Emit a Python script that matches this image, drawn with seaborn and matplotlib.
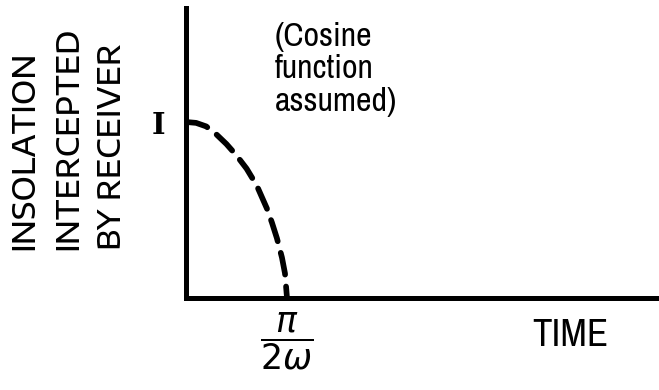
import matplotlib
matplotlib.use("Agg")
import matplotlib.pyplot as plt
import seaborn as sns
import pandas as pd

# Normalised time (1 = pi / 2w) and intercepted insolation (1 = I)
time_frac = [0.0, 0.1, 0.2, 0.3, 0.4, 0.5, 0.6, 0.7, 0.8, 0.85, 0.9, 0.95, 0.98, 1.0]
insolation = [1.0, 0.995, 0.975, 0.93, 0.875, 0.81, 0.735, 0.64, 0.51, 0.43, 0.34, 0.23, 0.14, 0.0]

y_tick_labels = ["I"]
x_tick_labels = [r"$\dfrac{\pi}{2\omega}$"]
y_label = "INSOLATION\nINTERCEPTED\nBY RECEIVER"
x_label = "TIME"
note = "(Cosine\nfunction\nassumed)"

sns.set_theme(style="white")
plt.rcParams["font.family"] = ["DejaVu Sans"]
plt.rcParams["mathtext.fontset"] = "dejavusans"

narrow = ["Archivo Narrow", "Liberation Sans Narrow", "Liberation Sans", "DejaVu Sans"]
wide = ["Encode Sans Expanded", "DejaVu Sans"]

df = pd.DataFrame({"t": time_frac, "q": insolation})

fig = plt.figure(figsize=(6.59, 3.9), dpi=100)
ax = fig.add_axes([186 / 659, (390 - 298) / 390, 1 - 186 / 659, 290 / 390])

sns.lineplot(data=df, x="t", y="q", ax=ax, color="black", linewidth=4.1,
             linestyle=(0, (3.9, 2.1)), dash_capstyle="round")

ax.set_xlim(0, 473 / 101)
ax.set_ylim(0, 290 / 176)

sns.despine(ax=ax)
for side in ("left", "bottom"):
    ax.spines[side].set_linewidth(3.6)
    ax.spines[side].set_color("black")

ax.set_yticks([1.0])
ax.set_yticklabels(y_tick_labels, fontfamily="DejaVu Serif", fontweight="bold", fontsize=21)
ax.set_xticks([1.0])
ax.set_xticklabels(x_tick_labels, fontsize=25)
ax.tick_params(axis="y", length=0, pad=15, colors="black")
ax.tick_params(axis="x", length=0, pad=9, colors="black")

ax.set_xlabel(x_label, fontfamily=narrow, fontsize=28, color="black")
ax.xaxis.set_label_coords((570 - 186) / 473, -(336 - 298) / 290)
ax.xaxis.label.set_va("center")

ax.set_ylabel(y_label, fontfamily=wide, fontweight="medium", fontsize=21.5,
              color="black", linespacing=1.47, multialignment="left")
ax.yaxis.label.set(ha="left", va="center", rotation_mode="anchor")
ax.yaxis.set_label_coords((68 - 186) / 473, (298 - 250) / 290)

ax.text((275 - 186) / 473, (298 - 22) / 290, note, transform=ax.transAxes,
        ha="left", va="top", fontfamily=narrow, fontsize=24.5, linespacing=1.1,
        color="black")

fig.savefig("out.png", dpi=100)
